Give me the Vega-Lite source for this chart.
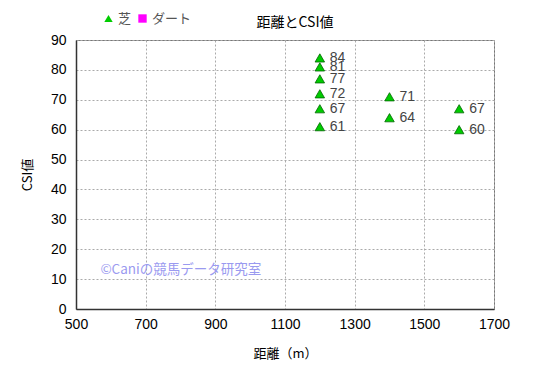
{
  "$schema": "https://vega.github.io/schema/vega-lite/v6.json",
  "autosize": "none",
  "width": 418,
  "height": 269,
  "padding": {"left": 76, "top": 40, "right": 51, "bottom": 68},
  "background": "white",
  "title": {"text": "距離とCSI値", "fontSize": 14, "fontWeight": "normal", "font": "Noto Sans CJK JP", "color": "#000", "offset": -18, "dx": 10},
  "config": {
    "font": "Noto Sans CJK JP",
    "view": {"stroke": "#777", "strokeWidth": 1},
    "axis": {"labelFont": "Liberation Sans", "labelFontSize": 14, "labelColor": "#000", "labelOverlap": false, "labelFlush": false, "titleFont": "Noto Sans CJK JP", "titleFontSize": 13, "titleFontWeight": "normal", "titleColor": "#000", "ticks": false, "domainColor": "#333", "domainWidth": 1.5, "gridColor": "#aaa", "gridDash": [2, 2], "gridWidth": 1}
  },
  "datasets": {
    "pts": [
      {"distance": 1200, "csi": 84, "surface": "芝"},
      {"distance": 1200, "csi": 81, "surface": "芝"},
      {"distance": 1200, "csi": 77, "surface": "芝"},
      {"distance": 1200, "csi": 72, "surface": "芝"},
      {"distance": 1200, "csi": 67, "surface": "芝"},
      {"distance": 1200, "csi": 61, "surface": "芝"},
      {"distance": 1400, "csi": 71, "surface": "芝"},
      {"distance": 1400, "csi": 64, "surface": "芝"},
      {"distance": 1600, "csi": 67, "surface": "芝"},
      {"distance": 1600, "csi": 60, "surface": "芝"}
    ],
    "wm": [{"distance": 570, "csi": 13, "label": "©Caniの競馬データ研究室"}]
  },
  "encoding": {
    "x": {"field": "distance", "type": "quantitative", "scale": {"domain": [500, 1700], "nice": false}, "axis": {"values": [500, 700, 900, 1100, 1300, 1500, 1700], "format": "d", "labelFlush": false, "title": "距離（m）", "labelPadding": 8, "titlePadding": 16}},
    "y": {"field": "csi", "type": "quantitative", "scale": {"domain": [0, 90], "nice": false}, "axis": {"values": [0, 10, 20, 30, 40, 50, 60, 70, 80, 90], "tickCount": 10, "labelOverlap": false, "labelFlush": false, "title": "CSI値", "labelPadding": 10, "titlePadding": 16}}
  },
  "layer": [
    {
      "data": {"name": "pts"},
      "mark": {"type": "point", "filled": true, "size": 90, "stroke": "#006600", "strokeWidth": 0.8, "opacity": 1},
      "encoding": {
        "shape": {"field": "surface", "type": "nominal", "scale": {"domain": ["芝", "ダート"], "range": ["triangle-up", "square"]}, "legend": {"orient": "none", "legendX": 26, "legendY": -28, "direction": "horizontal", "gridAlign": "none", "title": null, "labelFont": "Noto Sans CJK JP", "labelFontSize": 13, "labelColor": "#555", "symbolSize": 70, "columnPadding": 4, "labelOffset": 3, "symbolStrokeWidth": 0}},
        "color": {"field": "surface", "type": "nominal", "scale": {"domain": ["芝", "ダート"], "range": ["#00cc00", "#ff00ff"]}, "legend": {"orient": "none", "legendX": 26, "legendY": -28, "direction": "horizontal", "gridAlign": "none", "title": null, "labelFont": "Noto Sans CJK JP", "labelFontSize": 13, "labelColor": "#555", "symbolSize": 70, "columnPadding": 4, "labelOffset": 3, "symbolStrokeWidth": 0}}
      }
    },
    {
      "data": {"name": "pts"},
      "mark": {"type": "text", "align": "left", "baseline": "middle", "dx": 10, "fontSize": 14, "font": "Liberation Sans", "color": "#444"},
      "encoding": {
        "text": {"field": "csi", "type": "quantitative"}
      }
    },
    {
      "data": {"name": "wm"},
      "mark": {"type": "text", "align": "left", "baseline": "middle", "fontSize": 13.5, "font": "Noto Sans CJK JP", "color": "#9a9af0"},
      "encoding": {
        "text": {"field": "label", "type": "nominal"}
      }
    }
  ]
}
